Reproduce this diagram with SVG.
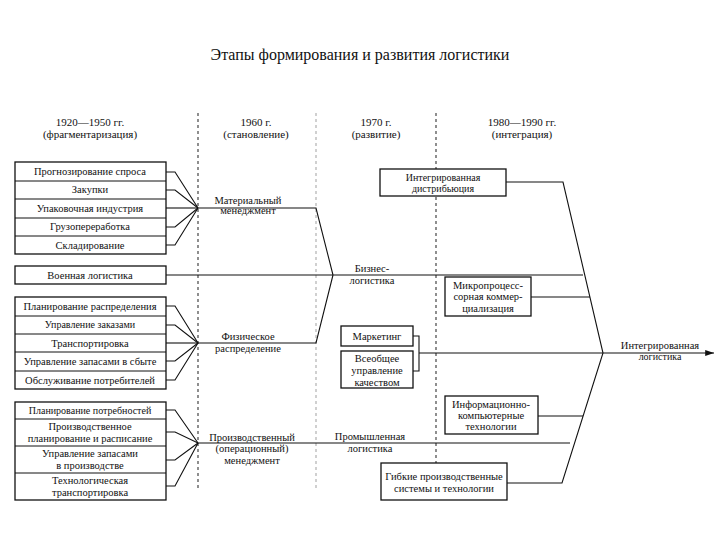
<svg xmlns="http://www.w3.org/2000/svg" width="720" height="540" viewBox="0 0 720 540" font-family="'Liberation Serif', 'Times New Roman', 'DejaVu Serif', serif">
<defs>
<style>
text{font-family:'Liberation Serif','Times New Roman','DejaVu Serif',serif;fill:#111;text-anchor:middle}
.t{font-size:16px}
.h{font-size:11px}
.b{font-size:10.5px}
.s{font-size:10px}
rect{fill:#fff;stroke:#111;stroke-width:1.3}
.c line,.c polyline{stroke:#111;stroke-width:1.1;fill:none}
.d{stroke:#333;stroke-width:1.1;stroke-dasharray:3,3}
.dl{stroke:#aaa;stroke-width:1.1;stroke-dasharray:3,3}
</style>
<marker id="ar" viewBox="0 0 10 10" refX="10" refY="5" markerWidth="8" markerHeight="8" orient="auto"><path d="M0,1.5 L10,5 L0,8.5 z" fill="#111"/></marker>
</defs>
<rect width="720" height="540" style="fill:#fff;stroke:none"/>
<text class="t" x="360" y="60">Этапы формирования и развития логистики</text>
<g id="dividers">
<line class="d" x1="198" y1="113" x2="198" y2="490"/>
<line class="dl" x1="316" y1="113" x2="316" y2="490"/>
<line class="d" x1="436" y1="113" x2="436" y2="490"/>
</g>
<g id="headers" class="h">
<text x="90" y="126">1920—1950 гг.</text><text x="90" y="138">(фрагментаризация)</text>
<text x="256" y="126">1960 г.</text><text x="256" y="138">(становление)</text>
<text x="376" y="126">1970 г.</text><text x="376" y="138">(развитие)</text>
<text x="522" y="126">1980—1990 гг.</text><text x="522" y="138">(интеграция)</text>
</g>
<g class="c" id="connectors">
<polyline points="166,172 175,172 198,208"/><polyline points="166,190 175,190 198,208"/><line x1="166" y1="208" x2="198" y2="208"/><polyline points="166,227 175,227 198,208"/><polyline points="166,245 175,245 198,208"/>
<polyline points="198,208 316,208 333,275"/>
<line x1="166" y1="275" x2="583" y2="275"/>
<polyline points="166,306 175,306 198,343"/><polyline points="166,325 175,325 198,343"/><line x1="166" y1="343" x2="198" y2="343"/><polyline points="166,361 175,361 198,343"/><polyline points="166,380 175,380 198,343"/>
<polyline points="198,343 316,343 333,275"/>
<polyline points="166,410 175,410 198,443"/><polyline points="166,432 175,432 198,443"/><polyline points="166,460 175,460 198,443"/><polyline points="166,486 175,486 198,443"/>
<line x1="198" y1="443" x2="570" y2="443"/>
<polyline points="506,182 563,182 603,353 562,483 507,483"/>
<line x1="531" y1="297" x2="590" y2="297"/>
<line x1="538" y1="416" x2="583" y2="416"/>
<polyline points="413,336 419,336 419,371 413,371"/>
<line x1="419" y1="353" x2="603" y2="353"/>
<line x1="603" y1="353" x2="714" y2="353" marker-end="url(#ar)"/>
</g>
<g id="group1" class="b">
<rect x="15" y="162" width="151" height="92"/>
<line x1="15" y1="181" x2="166" y2="181" stroke="#111"/><line x1="15" y1="199" x2="166" y2="199" stroke="#111"/><line x1="15" y1="218" x2="166" y2="218" stroke="#111"/><line x1="15" y1="236" x2="166" y2="236" stroke="#111"/>
<text x="90" y="175">Прогнозирование спроса</text><text x="90" y="193">Закупки</text><text x="90" y="212">Упаковочная индустрия</text><text x="90" y="230">Грузопереработка</text><text x="90" y="249">Складирование</text>
</g>
<g id="military" class="b"><rect x="15" y="266" width="151" height="18"/><text x="90" y="279">Военная логистика</text></g>
<g id="group2" class="b">
<rect x="15" y="297" width="151" height="92"/>
<line x1="15" y1="316" x2="166" y2="316" stroke="#111"/><line x1="15" y1="334" x2="166" y2="334" stroke="#111"/><line x1="15" y1="352" x2="166" y2="352" stroke="#111"/><line x1="15" y1="371" x2="166" y2="371" stroke="#111"/>
<text x="90" y="310">Планирование распределения</text><text x="90" y="328" class="s">Управление заказами</text><text x="90" y="347">Транспортировка</text><text x="90" y="365">Управление запасами в сбыте</text><text x="90" y="384">Обслуживание потребителей</text>
</g>
<g id="group3" class="b">
<rect x="15" y="402" width="151" height="98"/>
<line x1="15" y1="419" x2="166" y2="419" stroke="#111"/><line x1="15" y1="446" x2="166" y2="446" stroke="#111"/><line x1="15" y1="473" x2="166" y2="473" stroke="#111"/>
<text x="90" y="414" class="s">Планирование потребностей</text>
<text x="90" y="430">Производственное</text><text x="90" y="442">планирование и расписание</text>
<text x="90" y="457">Управление запасами</text><text x="90" y="469">в производстве</text>
<text x="90" y="484">Технологическая</text><text x="90" y="496">транспортировка</text>
</g>
<g id="labels" class="b">
<text x="248" y="204">Материальный</text><text x="248" y="214">менеджмент</text>
<text x="248" y="340">Физическое</text><text x="248" y="352">распределение</text>
<text x="252" y="441">Производственный</text><text x="252" y="452">(операционный)</text><text x="252" y="464">менеджмент</text>
<text x="372" y="272">Бизнес-</text><text x="372" y="284">логистика</text>
<text x="370" y="440">Промышленная</text><text x="370" y="452">логистика</text>
<text x="660" y="349">Интегрированная</text><text x="660" y="360" class="s">логистика</text>
</g>
<g id="n-distr" class="s"><rect x="380" y="169" width="126" height="27"/><text x="443" y="181">Интегрированная</text><text x="443" y="192">дистрибьюция</text></g>
<g id="n-micro" class="b"><rect x="445" y="277" width="86" height="39"/><text x="488" y="289">Микропроцесс-</text><text x="488" y="300">сорная коммер-</text><text x="488" y="312">циализация</text></g>
<g id="n-mkt" class="b"><rect x="341" y="326" width="72" height="20"/><text x="377" y="340">Маркетинг</text></g>
<g id="n-tqm" class="b"><rect x="341" y="351" width="72" height="37"/><text x="377" y="362">Всеобщее</text><text x="377" y="374">управление</text><text x="377" y="386">качеством</text></g>
<g id="n-info" class="b"><rect x="445" y="396" width="93" height="38"/><text x="491" y="408">Информационно-</text><text x="491" y="419">компьютерные</text><text x="491" y="430">технологии</text></g>
<g id="n-flex" class="b"><rect x="381" y="463" width="126" height="37"/><text x="444" y="480">Гибкие производственные</text><text x="444" y="492">системы и технологии</text></g>
</svg>
